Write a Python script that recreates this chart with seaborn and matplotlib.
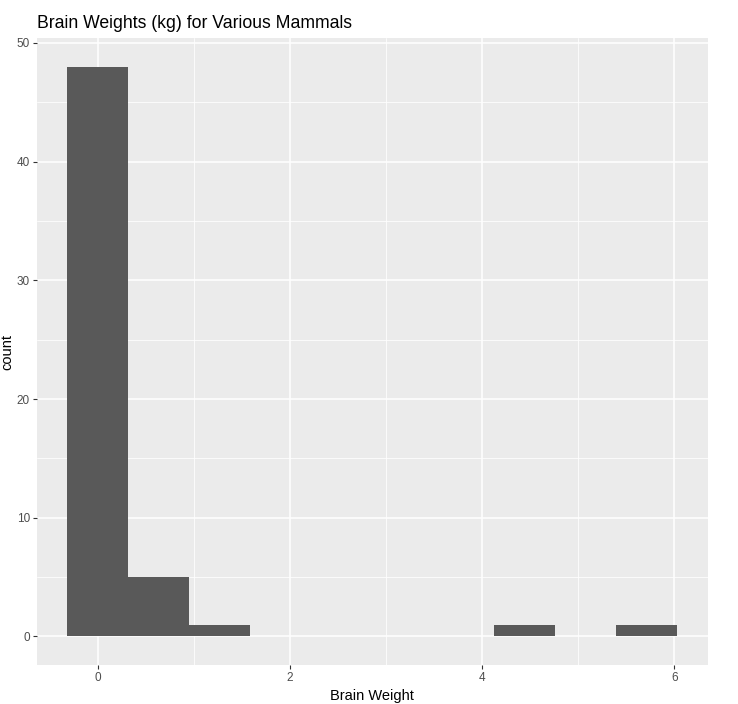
import matplotlib
matplotlib.use("Agg")
import matplotlib.pyplot as plt
import seaborn as sns
from matplotlib.ticker import MultipleLocator

# histogram bins (bin centres in kg, counts)
bin_centers = [0.0, 0.635, 1.269, 1.904, 2.539, 3.173, 3.808, 4.443, 5.077, 5.712]
bin_counts = [48, 5, 1, 0, 0, 0, 0, 1, 0, 1]
x_ticks = [0, 2, 4, 6]
y_ticks = [0, 10, 20, 30, 40, 50]

sns.set_theme(style="darkgrid")
plt.rcParams['font.family'] = ['Liberation Sans', 'DejaVu Sans']

fig = plt.figure(figsize=(7.38, 7.04), dpi=100)
ax = fig.add_axes([0.0501, 0.0554, 0.9089, 0.8906])
ax.set_facecolor("#EBEBEB")

sns.histplot(x=bin_centers, weights=bin_counts, binwidth=0.6346,
             binrange=(-0.3172, 6.0292), color="#595959", alpha=1,
             edgecolor="none", linewidth=0, ax=ax)

ax.set_xlim(-0.634, 6.346)
ax.set_ylim(-2.4, 50.4)
ax.set_xticks(x_ticks)
ax.set_yticks(y_ticks)
ax.xaxis.set_minor_locator(MultipleLocator(1))
ax.yaxis.set_minor_locator(MultipleLocator(5))
ax.grid(which="major", color="white", linewidth=1.1)
ax.grid(which="minor", color="white", linewidth=0.55)
ax.set_axisbelow(True)
for s in ax.spines.values():
    s.set_visible(False)

ax.tick_params(axis="both", which="major", length=3, width=0.8, color="#333333",
               labelsize=8.5, labelcolor="#4D4D4D", pad=2, bottom=True, left=True)
ax.tick_params(axis="both", which="minor", length=0)

ax.set_xlabel("Brain Weight", fontsize=10.5, color="black", labelpad=4)
ax.set_ylabel("count", fontsize=10.5, color="black", labelpad=2)
ax.set_title("Brain Weights (kg) for Various Mammals", loc="left", fontsize=12.7,
             color="black", pad=7)

fig.savefig("out.png", dpi=100)
